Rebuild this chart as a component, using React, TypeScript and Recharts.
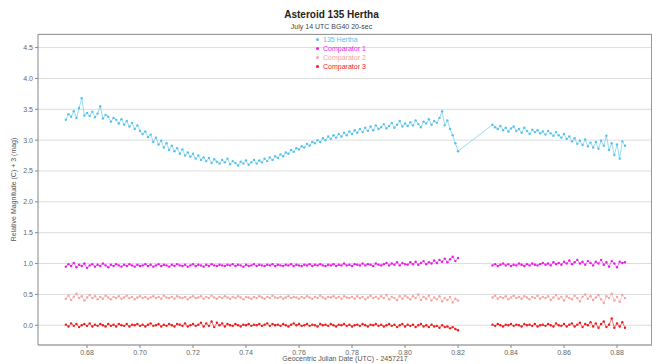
import React from "react";
import { ComposedChart, Line, XAxis, YAxis, CartesianGrid } from "recharts";

// Geocentric JD (UTC) - 2457217
const times1 = [
  0.672, 0.673, 0.674, 0.675, 0.676, 0.677, 0.678, 0.679, 0.68, 0.681,
  0.682, 0.683, 0.684, 0.685, 0.686, 0.687, 0.688, 0.689, 0.69, 0.691,
  0.692, 0.693, 0.694, 0.695, 0.696, 0.697, 0.698, 0.699, 0.7, 0.701,
  0.702, 0.703, 0.704, 0.705, 0.706, 0.707, 0.708, 0.709, 0.71, 0.711,
  0.712, 0.713, 0.714, 0.715, 0.716, 0.717, 0.718, 0.719, 0.72, 0.721,
  0.722, 0.723, 0.724, 0.725, 0.726, 0.727, 0.728, 0.729, 0.73, 0.731,
  0.732, 0.733, 0.734, 0.735, 0.736, 0.737, 0.738, 0.739, 0.74, 0.741,
  0.742, 0.743, 0.744, 0.745, 0.746, 0.747, 0.748, 0.749, 0.75, 0.751,
  0.752, 0.753, 0.754, 0.755, 0.756, 0.757, 0.758, 0.759, 0.76, 0.761,
  0.762, 0.763, 0.764, 0.765, 0.766, 0.767, 0.768, 0.769, 0.77, 0.771,
  0.772, 0.773, 0.774, 0.775, 0.776, 0.777, 0.778, 0.779, 0.78, 0.781,
  0.782, 0.783, 0.784, 0.785, 0.786, 0.787, 0.788, 0.789, 0.79, 0.791,
  0.792, 0.793, 0.794, 0.795, 0.796, 0.797, 0.798, 0.799, 0.8, 0.801,
  0.802, 0.803, 0.804, 0.805, 0.806, 0.807, 0.808, 0.809, 0.81, 0.811,
  0.812, 0.813, 0.814, 0.815, 0.816, 0.817, 0.818, 0.819, 0.82,
];
const times2 = [
  0.833, 0.834, 0.835, 0.836, 0.837, 0.838, 0.839, 0.84, 0.841, 0.842,
  0.843, 0.844, 0.845, 0.846, 0.847, 0.848, 0.849, 0.85, 0.851, 0.852,
  0.853, 0.854, 0.855, 0.856, 0.857, 0.858, 0.859, 0.86, 0.861, 0.862,
  0.863, 0.864, 0.865, 0.866, 0.867, 0.868, 0.869, 0.87, 0.871, 0.872,
  0.873, 0.874, 0.875, 0.876, 0.877, 0.878, 0.879, 0.88, 0.881, 0.882,
  0.883,
];

const hertha1 = [
  3.33, 3.42, 3.38, 3.47, 3.36, 3.52, 3.68, 3.4, 3.44, 3.39,
  3.46, 3.37, 3.43, 3.55, 3.35, 3.41, 3.38, 3.3, 3.36, 3.33,
  3.27, 3.34, 3.25, 3.31, 3.22, 3.28, 3.18, 3.24, 3.15, 3.1,
  3.14, 3.05, 3.09, 2.97, 3.04, 2.93, 2.99, 2.88, 2.95, 2.84,
  2.91, 2.82, 2.87, 2.78, 2.85, 2.75, 2.8, 2.73, 2.78, 2.7,
  2.75, 2.68, 2.72, 2.66, 2.71, 2.63, 2.69, 2.65, 2.62, 2.68,
  2.64, 2.7, 2.61, 2.66, 2.63, 2.59, 2.65, 2.62, 2.67, 2.6,
  2.64, 2.68, 2.62, 2.67, 2.64, 2.7, 2.66, 2.72, 2.68, 2.74,
  2.71, 2.77, 2.74, 2.8, 2.78, 2.84, 2.81, 2.87, 2.85, 2.9,
  2.88, 2.94, 2.91, 2.97, 2.95, 3.0, 2.97, 3.03, 3.0, 3.06,
  3.02, 3.08, 3.04, 3.1, 3.06, 3.12, 3.08, 3.14, 3.1, 3.16,
  3.12, 3.18, 3.13, 3.2, 3.15, 3.22, 3.16, 3.24, 3.18, 3.21,
  3.26, 3.19, 3.23, 3.28, 3.2, 3.25, 3.31, 3.22, 3.27, 3.23,
  3.29, 3.24, 3.32, 3.26, 3.21, 3.3, 3.27, 3.34, 3.25, 3.31,
  3.28, 3.36, 3.47, 3.24, 3.32, 3.18, 3.08, 2.95, 2.82,
];
const hertha2 = [
  3.25, 3.21, 3.18, 3.23, 3.16, 3.2, 3.14, 3.19, 3.22, 3.15,
  3.18, 3.12, 3.2, 3.15, 3.1, 3.17, 3.13, 3.16, 3.11, 3.14,
  3.09, 3.15, 3.11, 3.07, 3.13, 3.08, 3.04, 3.1, 3.02, 3.06,
  2.98, 3.03, 2.94, 2.99, 2.92, 3.01, 2.9, 2.96, 2.88, 2.97,
  2.86, 2.99, 2.91, 3.07, 2.84, 2.95, 2.76, 2.93, 2.7, 2.98,
  2.91,
];

const comp1a = [
  0.95, 0.99, 0.96, 1.01, 0.94, 0.98, 0.96, 1.0, 0.93, 0.97,
  0.99, 0.95, 0.98, 0.96, 1.0, 0.97, 0.94, 0.98, 0.96, 0.99,
  0.97, 0.95, 0.98, 0.96, 0.99, 0.97, 0.95, 0.98, 0.96, 0.97,
  0.99, 0.96, 0.98, 0.95, 0.97, 0.99, 0.96, 0.98, 0.97, 0.95,
  0.98, 0.96, 0.99, 0.97, 0.96, 0.98, 0.95, 0.97, 0.99, 0.96,
  0.98, 0.97, 0.95, 0.98, 0.96, 0.99, 0.97, 0.96, 0.98, 0.97,
  0.96, 0.98, 0.97, 0.99, 0.96, 0.98, 0.97, 0.95, 0.98, 0.96,
  0.97, 0.99, 0.96, 0.98, 0.97, 0.96, 0.98, 0.97, 0.99, 0.96,
  0.98, 0.97, 0.96, 0.98, 0.97, 0.99, 0.96, 0.98, 0.97, 0.96,
  0.98, 0.97, 0.99, 0.96, 0.98, 0.97, 0.99, 0.97, 0.96, 0.98,
  0.97, 0.99, 0.96, 0.98, 0.97, 1.0, 0.97, 0.98, 0.96, 0.99,
  0.98, 0.97, 1.0, 0.97, 0.99, 0.98, 0.96, 1.0, 0.98, 0.97,
  0.99, 1.01, 0.97, 1.0, 0.98, 1.02, 0.97, 1.01, 0.99, 0.98,
  1.02, 0.99, 1.03, 0.98, 1.01, 1.04, 0.99, 1.02, 1.0, 1.05,
  1.01, 1.06, 1.03, 1.08, 1.02, 1.07, 1.11, 1.04, 1.09,
];
const comp1b = [
  0.97, 0.99, 0.96, 0.98, 1.0, 0.97, 0.99, 0.96, 0.98, 0.97,
  1.0, 0.98, 0.96, 0.99, 0.97, 1.0, 0.98, 0.97, 0.99, 1.01,
  0.98, 1.0, 0.97, 1.02, 0.99, 1.01, 0.98, 1.03, 1.0, 1.05,
  0.99, 1.02, 1.06, 1.0, 1.03, 0.98, 1.04, 1.01, 0.97, 1.03,
  1.0, 1.06, 0.98, 1.02, 0.95, 1.04, 1.0, 0.94, 1.03, 1.01,
  1.02,
];

const comp2a = [
  0.43, 0.48, 0.41, 0.46, 0.51, 0.44, 0.47, 0.4, 0.45, 0.49,
  0.44, 0.47, 0.42, 0.46, 0.43, 0.48, 0.45, 0.42, 0.46, 0.44,
  0.47, 0.43, 0.45, 0.48, 0.44, 0.46, 0.42, 0.45, 0.47, 0.44,
  0.46, 0.43, 0.45, 0.47, 0.44, 0.46, 0.43, 0.48, 0.45, 0.44,
  0.46, 0.43, 0.47, 0.45, 0.44, 0.46, 0.42, 0.45, 0.47, 0.44,
  0.45, 0.47, 0.43, 0.46, 0.44, 0.48, 0.45, 0.43, 0.46, 0.44,
  0.47, 0.45, 0.43, 0.46, 0.44, 0.47, 0.45, 0.42, 0.46, 0.45,
  0.43, 0.46, 0.44, 0.47, 0.45, 0.43, 0.46, 0.44, 0.48, 0.45,
  0.44, 0.46, 0.43, 0.45, 0.47, 0.44, 0.46, 0.45, 0.43, 0.46,
  0.44, 0.47, 0.45, 0.43, 0.46, 0.44, 0.48, 0.45, 0.43, 0.46,
  0.45, 0.47, 0.44, 0.46, 0.43, 0.47, 0.45, 0.44, 0.46, 0.43,
  0.47, 0.44, 0.46, 0.42, 0.45, 0.48, 0.44, 0.46, 0.43, 0.47,
  0.44, 0.49, 0.42, 0.46, 0.44, 0.41, 0.47, 0.43, 0.48, 0.45,
  0.42, 0.47, 0.44, 0.5, 0.41, 0.46, 0.43, 0.48, 0.4, 0.45,
  0.42, 0.47, 0.39, 0.44, 0.41, 0.46, 0.37, 0.43, 0.4,
];
const comp2b = [
  0.45, 0.48, 0.43, 0.46, 0.44, 0.47, 0.42, 0.45, 0.48, 0.44,
  0.46, 0.43, 0.47, 0.45, 0.42, 0.46, 0.44, 0.48, 0.43, 0.46,
  0.44, 0.47, 0.41, 0.45, 0.49, 0.43, 0.46, 0.4, 0.47, 0.44,
  0.42, 0.48, 0.44, 0.39, 0.46, 0.5, 0.43, 0.47, 0.41, 0.45,
  0.49, 0.42, 0.36, 0.47, 0.44, 0.51, 0.4, 0.46, 0.38, 0.49,
  0.44,
];

const comp3a = [
  0.01, -0.02, 0.03, -0.01, 0.02, -0.03, 0.0, 0.02, -0.01, 0.03,
  -0.02, 0.01, -0.01, 0.02, 0.0, -0.02, 0.02, -0.01, 0.01, -0.02,
  0.02, 0.0, -0.01, 0.02, -0.02, 0.01, 0.0, 0.02, -0.01, 0.01,
  -0.02, 0.01, 0.03, -0.01, 0.0, 0.02, -0.02, 0.01, -0.01, 0.02,
  0.0, -0.02, 0.02, 0.01, -0.01, 0.03, -0.02, 0.0, 0.02, -0.01,
  0.01, 0.04, -0.02, 0.03, -0.01, 0.06, -0.03, 0.04, 0.0, 0.03,
  -0.02, 0.02, 0.0, -0.01, 0.02, 0.0, -0.02, 0.01, 0.0, 0.02,
  -0.01, 0.01, 0.0, 0.02, -0.01, 0.01, 0.03, -0.01, 0.02, 0.0,
  0.01, -0.01, 0.02, 0.0, -0.02, 0.01, 0.03, 0.0, 0.02, -0.01,
  0.0, 0.02, -0.01, 0.01, 0.0, -0.02, 0.02, 0.0, 0.01, -0.01,
  0.02, 0.0, -0.02, 0.01, 0.0, 0.02, -0.01, 0.01, -0.02, 0.0,
  0.01, -0.01, 0.02, 0.0, -0.02, 0.01, 0.0, 0.02, -0.01, 0.01,
  -0.02, 0.0, 0.02, -0.01, 0.01, -0.03, 0.0, 0.02, -0.02, 0.01,
  -0.01, 0.01, -0.03, 0.0, 0.02, -0.02, 0.0, -0.03, 0.01, -0.02,
  -0.01, -0.04, 0.0, -0.03, -0.02, -0.05, -0.03, -0.06, -0.08,
];
const comp3b = [
  0.01, -0.01, 0.02, 0.0, -0.02, 0.01, 0.0, 0.02, -0.01, 0.01,
  0.0, -0.02, 0.02, 0.0, 0.01, -0.01, 0.02, -0.02, 0.0, 0.01,
  -0.01, 0.02, 0.0, -0.02, 0.03, 0.0, -0.01, 0.02, -0.02, 0.01,
  0.03, -0.02, 0.01, 0.04, -0.03, 0.02, 0.0, 0.05, -0.02, 0.03,
  -0.04, 0.02, 0.06, -0.03, 0.01, 0.11, -0.04, 0.03, -0.02, 0.05,
  -0.04,
];

const xTicks = [0.68, 0.7, 0.72, 0.74, 0.76, 0.78, 0.8, 0.82, 0.84, 0.86, 0.88];
const yTicks = [0, 0.5, 1, 1.5, 2, 2.5, 3, 3.5, 4, 4.5];

const seriesInfo = [
  { key: "h", name: "135 Hertha", color: "#56c3ec" },
  { key: "c1", name: "Comparator 1", color: "#ea1de8" },
  { key: "c2", name: "Comparator 2", color: "#f5a4a2" },
  { key: "c3", name: "Comparator 3", color: "#ef1b1d" },
];

type Row = { t: number; h: number | null; c1: number | null; c2: number | null; c3: number | null };
const rows: Row[] = [];
times1.forEach((t, i) =>
  rows.push({ t, h: hertha1[i], c1: comp1a[i], c2: comp2a[i], c3: comp3a[i] })
);
// break in the comparator traces during the observing gap
rows.push({ t: (times1[times1.length - 1] + times2[0]) / 2, h: null, c1: null, c2: null, c3: null });
times2.forEach((t, i) =>
  rows.push({ t, h: hertha2[i], c1: comp1b[i], c2: comp2b[i], c3: comp3b[i] })
);

const makeDot = (color: string) => (props: any) => {
  const { cx, cy, index } = props;
  if (cx == null || cy == null || props.value == null) return <g key={index} />;
  return <circle key={index} cx={cx} cy={cy} r={1.2} fill={color} stroke="none" />;
};

const tickStyle = { fontSize: 7, fill: "#666", fontFamily: "Liberation Sans, Arial, sans-serif" };

export default function App() {
  return (
    <div style={{ position: "absolute", left: 0, top: 0, width: 659, height: 364, background: "#fff", fontFamily: "Liberation Sans, Arial, sans-serif", overflow: "hidden" }}>
      <ComposedChart width={659} height={364} data={rows} margin={{ top: 34, right: 7, left: 0, bottom: 0 }}>
        <CartesianGrid vertical={false} stroke="#dcdcdc" strokeWidth={1} />
        <XAxis
          dataKey="t"
          type="number"
          domain={[0.6615, 0.8932]}
          ticks={xTicks}
          tickFormatter={(v: number) => v.toFixed(2)}
          tick={tickStyle}
          tickSize={3}
          tickMargin={2}
          stroke="#888"
          height={19}
          allowDataOverflow
          label={{ value: "Geocentric Julian Date (UTC) - 2457217", position: "insideBottom", offset: 3, style: { fontSize: 7, fill: "#555" } }}
        />
        <YAxis
          type="number"
          domain={[-0.32, 4.72]}
          ticks={yTicks}
          tickFormatter={(v: number) => v.toFixed(1)}
          tick={tickStyle}
          tickSize={3}
          tickMargin={2}
          stroke="#888"
          width={38}
          allowDataOverflow
          label={{ value: "Relative Magnitude (C) + 3 (mag)", angle: -90, position: "insideLeft", offset: 14, style: { fontSize: 7, fill: "#555", textAnchor: "middle" } }}
        />
        {seriesInfo.map((s) => (
          <Line
            key={s.key}
            dataKey={s.key}
            name={s.name}
            type="linear"
            stroke={s.color}
            strokeWidth={0.6}
            dot={makeDot(s.color)}
            activeDot={false}
            connectNulls={s.key === "h"}
            isAnimationActive={false}
          />
        ))}
      </ComposedChart>
      <div style={{ position: "absolute", left: 38, top: 34, width: 614, height: 311, boxSizing: "border-box", borderTop: "1px solid #999", borderRight: "1px solid #999", pointerEvents: "none" }} />
      <div style={{ position: "absolute", left: 0, width: 659, top: 9, textAlign: "center", fontSize: 10, fontWeight: "bold", color: "#222", lineHeight: "12px", paddingLeft: 2 }}>
        Asteroid 135 Hertha
      </div>
      <div style={{ position: "absolute", left: 0, width: 659, top: 22, textAlign: "center", fontSize: 7, color: "#444", lineHeight: "9px", paddingLeft: 2 }}>
        July 14 UTC BG40 20-sec
      </div>
      <div style={{ position: "absolute", left: 316, top: 35 }}>
        {seriesInfo.map((s) => (
          <div key={s.key} style={{ display: "flex", alignItems: "center", height: 9, fontSize: 7, color: s.color, lineHeight: "9px" }}>
            <span style={{ display: "inline-block", width: 3, height: 3, borderRadius: 2, background: s.color, marginRight: 4 }} />
            {s.name}
          </div>
        ))}
      </div>
    </div>
  );
}
